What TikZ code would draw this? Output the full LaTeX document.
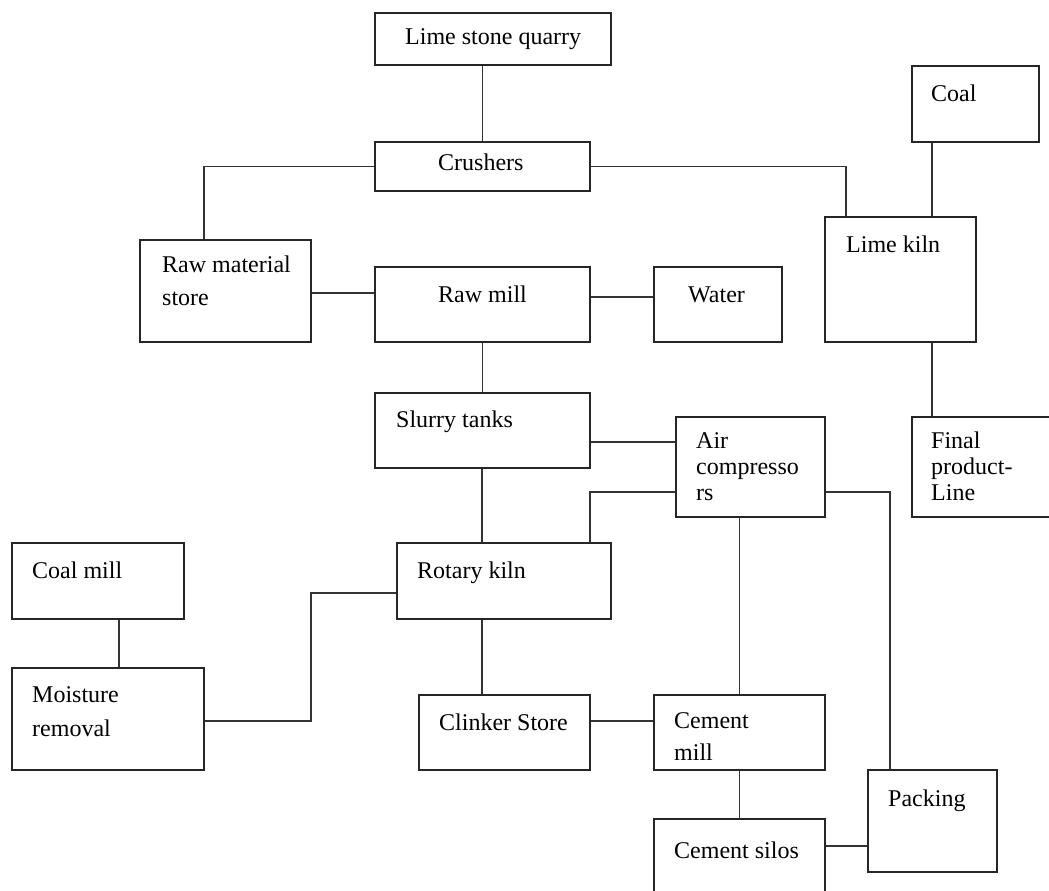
\documentclass[tikz,border=0pt]{standalone}
\usepackage{fontspec}
\setmainfont{Liberation Serif}
\begin{document}
\begin{tikzpicture}[x=1pt,y=-1pt,
  box/.style={draw=black!85, line width=1.7pt, rectangle, inner sep=0pt, fill=none},
  link/.style={draw=black!80, line width=1.3pt},
  txt/.style={anchor=base west, inner sep=0pt, font=\fontsize{24}{28}\selectfont}]
\clip (0,0) rectangle (1049,891);
\fill[white] (0,0) rectangle (1049,891);
% boxes
\node[box, minimum width=236pt, minimum height=52pt] (quarry) at (493,39) {};
\node[box, minimum width=215pt, minimum height=49pt] (crushers) at (482.5,166.5) {};
\node[box, minimum width=127pt, minimum height=76pt] (coal) at (975.5,104) {};
\node[box, minimum width=151pt, minimum height=125pt] (limekiln) at (900.5,279.5) {};
\node[box, minimum width=171pt, minimum height=102pt] (rawstore) at (225.5,291) {};
\node[box, minimum width=215pt, minimum height=75pt] (rawmill) at (482.5,304.5) {};
\node[box, minimum width=128pt, minimum height=75pt] (water) at (718,304.5) {};
\node[box, minimum width=215pt, minimum height=75pt] (slurry) at (482.5,430.5) {};
\node[box, minimum width=149pt, minimum height=100pt] (air) at (750.5,467) {};
\node[box, minimum width=168pt, minimum height=100pt] (final) at (996,467) {};
\node[box, minimum width=172pt, minimum height=76pt] (coalmill) at (98,581) {};
\node[box, minimum width=214pt, minimum height=76pt] (rotary) at (504,581) {};
\node[box, minimum width=192pt, minimum height=102pt] (moisture) at (108,719) {};
\node[box, minimum width=171pt, minimum height=75pt] (clinker) at (504.5,732.5) {};
\node[box, minimum width=171pt, minimum height=75pt] (cementmill) at (739.5,732.5) {};
\node[box, minimum width=129pt, minimum height=102pt] (packing) at (932.5,821) {};
\node[box, minimum width=171pt, minimum height=101pt] (silos) at (739.5,869.5) {};
% texts
\node[txt] (t-quarry) at (405,45) {Lime stone quarry};
\node[txt] (t-coal) at (931,101) {Coal};
\node[txt] (t-crushers) at (438,170) {Crushers};
\node[txt] (t-limekiln) at (846,252) {Lime kiln};
\node[txt] (t-rawstore1) at (162,272) {Raw material};
\node[txt] (t-rawstore2) at (162,305) {store};
\node[txt] (t-rawmill) at (438,302) {Raw mill};
\node[txt] (t-water) at (688,302) {Water};
\node[txt] (t-slurry) at (396,427) {Slurry tanks};
\node[txt] (t-air1) at (696,448) {Air};
\node[txt] (t-air2) at (696,474) {compresso};
\node[txt] (t-air3) at (696,500) {rs};
\node[txt] (t-final1) at (931,448) {Final};
\node[txt] (t-final2) at (931,474) {product-};
\node[txt] (t-final3) at (931,500) {Line};
\node[txt] (t-coalmill) at (32,578) {Coal mill};
\node[txt] (t-rotary) at (417,578) {Rotary kiln};
\node[txt] (t-moisture1) at (32,702) {Moisture};
\node[txt] (t-moisture2) at (32,736) {removal};
\node[txt] (t-clinker) at (439,730) {Clinker Store};
\node[txt] (t-cementmill1) at (674,728) {Cement};
\node[txt] (t-cementmill2) at (674,760) {mill};
\node[txt] (t-packing) at (888,806) {Packing};
\node[txt] (t-silos) at (674,858) {Cement silos};
% connectors
\draw[link] (crushers.north |- quarry.south) -- (crushers.north);
\draw[link] (crushers.west) -| (204,0 |- rawstore.north);
\draw[link] (crushers.east) -| (846,0 |- limekiln.north);
\draw[link] (932,0 |- coal.south) -- (932,0 |- limekiln.north);
\draw[link] (rawstore.east |- 0,293) -- (rawmill.west |- 0,293);
\draw[link] (rawmill.east |- 0,297) -- (water.west |- 0,297);
\draw[link] (rawmill.south) -- (slurry.north);
\draw[link] (932,0 |- limekiln.south) -- (932,0 |- final.north);
\draw[link] (slurry.east |- 0,442) -- (air.west |- 0,442);
\draw[link] (air.west |- 0,492) -| (590,0 |- rotary.north);
\draw[link] (air.east |- 0,492) -| (890,0 |- packing.north);
\draw[link] (cementmill.north |- air.south) -- (cementmill.north);
\draw[link] (482,0 |- slurry.south) -- (482,0 |- rotary.north);
\draw[link] (119,0 |- coalmill.south) -- (119,0 |- moisture.north);
\draw[link] (moisture.east |- 0,721) -| (311,593) -- (rotary.west |- 0,593);
\draw[link] (482,0 |- rotary.south) -- (482,0 |- clinker.north);
\draw[link] (clinker.east |- 0,721) -- (cementmill.west |- 0,721);
\draw[link] (cementmill.south) -- (silos.north);
\draw[link] (silos.east |- 0,846) -- (packing.west |- 0,846);
\end{tikzpicture}
\end{document}
